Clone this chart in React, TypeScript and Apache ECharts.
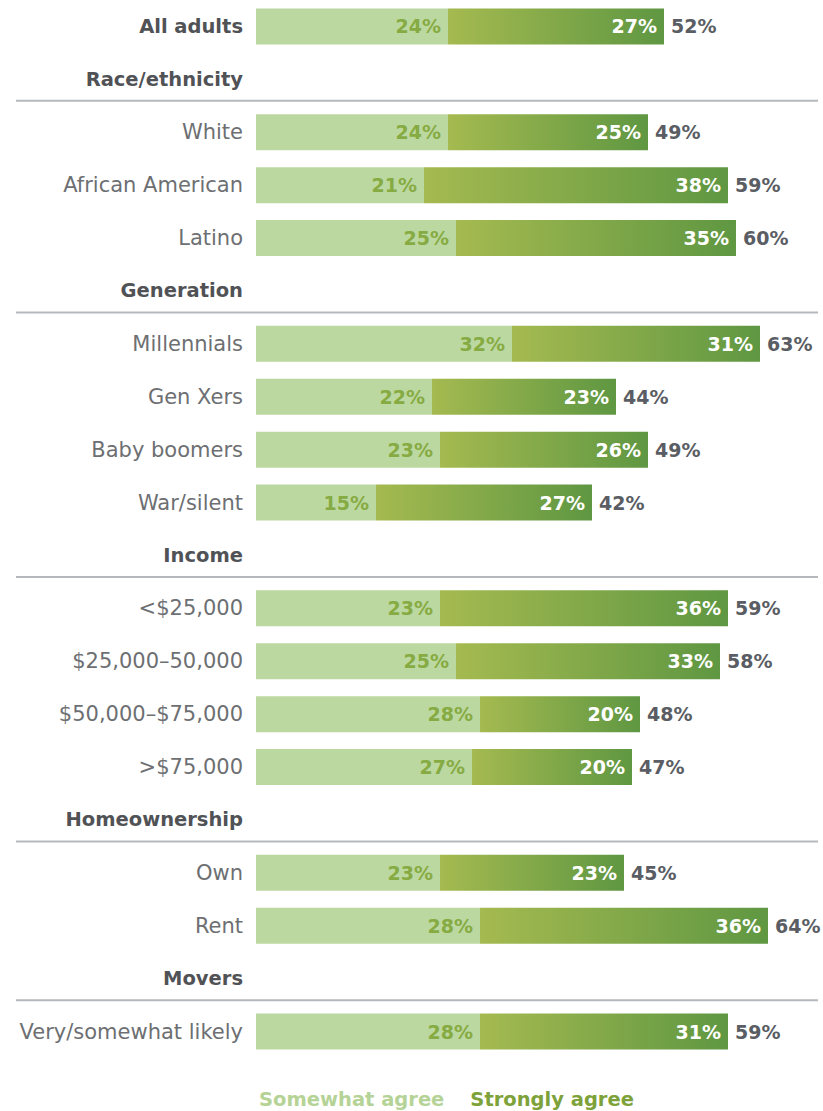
import React, { useEffect, useRef } from "react";
import * as echarts from "echarts";

const categories = [
  "All adults", "Race/ethnicity", "White", "African American", "Latino",
  "Generation", "Millennials", "Gen Xers", "Baby boomers", "War/silent",
  "Income", "<$25,000", "$25,000–50,000", "$50,000–$75,000", ">$75,000",
  "Homeownership", "Own", "Rent", "Movers", "Very/somewhat likely",
];
const boldRows = ["All adults", "Race/ethnicity", "Generation", "Income", "Homeownership", "Movers"];
const sectionHeaders = ["Race/ethnicity", "Generation", "Income", "Homeownership", "Movers"];
const somewhat = [24, null, 24, 21, 25, null, 32, 22, 23, 15, null, 23, 25, 28, 27, null, 23, 28, null, 28];
const strongly = [27, null, 25, 38, 35, null, 31, 23, 26, 27, null, 36, 33, 20, 20, null, 23, 36, null, 31];
const totals = [52, null, 49, 59, 60, null, 63, 44, 49, 42, null, 59, 58, 48, 47, null, 45, 64, null, 59];
const seriesNames = ["Somewhat agree", "Strongly agree"];

const FONT = "DejaVu Sans";

export default function App() {
  const ref = useRef<HTMLDivElement>(null);
  useEffect(() => {
    const chart = echarts.init(ref.current!, null, { renderer: "svg" });
    const sums = somewhat.map((v, i) => (v == null ? null : v + (strongly[i] as number)));
    chart.setOption({
      animation: false,
      textStyle: { fontFamily: FONT },
      grid: { left: 256, top: -1, height: 1059, width: 560, containLabel: false },
      xAxis: { type: "value", min: 0, max: 70, show: false },
      yAxis: {
        type: "category",
        data: categories,
        inverse: true,
        axisLine: { show: false },
        axisTick: { show: false },
        axisLabel: {
          margin: 13,
          formatter: (v: string) => (boldRows.includes(v) ? `{b|${v}}` : `{n|${v}}`),
          rich: {
            b: { fontFamily: FONT, fontSize: 19.5, fontWeight: "bold", color: "#505256" },
            n: { fontFamily: FONT, fontSize: 21, color: "#6d6f72" },
          },
        },
      },
      legend: {
        left: 254,
        top: 1089,
        padding: 0,
        icon: "none",
        itemWidth: 0,
        itemGap: 21,
        data: [
          { name: seriesNames[0], textStyle: { color: "#b5d396" } },
          { name: seriesNames[1], textStyle: { color: "#7ea23a" } },
        ],
        textStyle: { fontFamily: FONT, fontSize: 19.5, fontWeight: "bold" },
        selectedMode: false,
      },
      series: [
        {
          type: "bar",
          name: "total",
          data: sums,
          barWidth: 36,
          barGap: "-100%",
          itemStyle: { color: "rgba(0,0,0,0)" },
          silent: true,
          label: {
            show: true,
            position: "right",
            distance: 7,
            formatter: (p: any) => (totals[p.dataIndex] == null ? "" : `${totals[p.dataIndex]}%`),
            fontFamily: FONT,
            fontSize: 19,
            fontWeight: "bold",
            color: "#5a5d63",
          },
          z: 1,
        },
        {
          type: "bar",
          name: seriesNames[0],
          stack: "s",
          data: somewhat,
          barWidth: 36,
          itemStyle: { color: "#bcd8a1" },
          label: {
            show: true,
            position: "insideRight",
            distance: 7,
            formatter: "{c}%",
            fontFamily: FONT,
            fontSize: 19,
            fontWeight: "bold",
            color: "#86ab42",
          },
          z: 2,
        },
        {
          type: "bar",
          name: seriesNames[1],
          stack: "s",
          data: strongly,
          barWidth: 36,
          itemStyle: {
            color: new echarts.graphic.LinearGradient(0, 0, 1, 0, [
              { offset: 0, color: "#a5ba50" },
              { offset: 1, color: "#5f9742" },
            ]),
          },
          label: {
            show: true,
            position: "insideRight",
            distance: 7,
            formatter: "{c}%",
            fontFamily: FONT,
            fontSize: 19,
            fontWeight: "bold",
            color: "#ffffff",
          },
          z: 2,
        },
      ],
    });
    const half = 21.5;
    const lines = sectionHeaders.map((h) => {
      const y = chart.convertToPixel({ yAxisIndex: 0 }, h) as number;
      return {
        type: "line",
        shape: { x1: 16, y1: y + half, x2: 818, y2: y + half },
        style: { stroke: "#b5b9bd", lineWidth: 2 },
        silent: true,
      };
    });
    chart.setOption({ graphic: lines });
    return () => chart.dispose();
  }, []);
  return (
    <div
      ref={ref}
      style={{ position: "absolute", left: 0, top: 0, width: 823, height: 1111, background: "#fff" }}
    />
  );
}
